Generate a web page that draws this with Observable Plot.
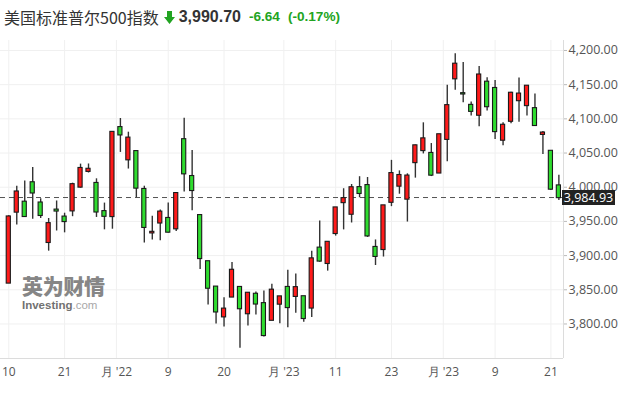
<!DOCTYPE html>
<html><head><meta charset="utf-8">
<script src="https://cdn.jsdelivr.net/npm/d3@7"></script>
<script src="https://cdn.jsdelivr.net/npm/@observablehq/plot@0.6"></script>
<style>
body{margin:0;background:#fff;}
#wrap{position:relative;width:624px;height:398px;overflow:hidden;background:#fff;}
#title{position:absolute;left:4px;top:3px;height:26px;line-height:26px;white-space:nowrap;}
#title .name{font-family:"Noto Sans CJK SC","Noto Sans",sans-serif;font-size:16px;color:#333;vertical-align:middle;}
#title .arrow{display:inline-block;vertical-align:middle;margin-left:5px;margin-right:4px;}
#title .last{font-family:"Liberation Sans",Arial,sans-serif;font-weight:bold;font-size:16px;color:#333;vertical-align:middle;}
#title .chg{font-family:"Liberation Sans",Arial,sans-serif;font-weight:bold;font-size:13.6px;color:#22a422;vertical-align:middle;margin-left:8px;}
#chart{position:absolute;left:0;top:30px;}
#wmcn{position:absolute;left:22px;top:274px;font-family:"Noto Sans CJK SC",sans-serif;font-weight:900;font-size:21px;color:#868686;letter-spacing:-0.3px;line-height:22px;height:22px;}
#wmen{position:absolute;left:22px;top:300px;font-family:"Liberation Sans",Arial,sans-serif;font-size:11.5px;line-height:11px;height:11px;white-space:nowrap;}
#wmen b{color:#717171;}
#wmen span{color:#a8a8a8;}
#pricebox{position:absolute;left:562px;width:53px;height:15px;background:#222;color:#fff;font-family:"Open Sans",sans-serif;font-size:12.5px;line-height:15px;text-align:center;}
</style></head>
<body><div id="wrap">
<div id="title"><span class="name">美国标准普尔500指数</span><svg class="arrow" width="11" height="13" viewBox="0 0 11 13"><polygon points="3,0 8,0 8,6 11,6 5.5,13 0,6 3,6" fill="#22a422"/></svg><span class="last">3,990.70</span><span class="chg">-6.64</span><span class="chg">(-0.17%)</span></div>
<div id="chart"></div>
<div id="wmcn">英为财情</div>
<div id="wmen"><b>Investing</b><span>.com</span></div>
<div id="pricebox"></div>
</div>
<script>
const dates = ["2022-11-10","2022-11-11","2022-11-14","2022-11-15","2022-11-16","2022-11-17","2022-11-18","2022-11-21","2022-11-22","2022-11-23","2022-11-25","2022-11-28","2022-11-29","2022-11-30","2022-12-01","2022-12-02","2022-12-05","2022-12-06","2022-12-07","2022-12-08","2022-12-09","2022-12-12","2022-12-13","2022-12-14","2022-12-15","2022-12-16","2022-12-19","2022-12-20","2022-12-21","2022-12-22","2022-12-23","2022-12-27","2022-12-28","2022-12-29","2022-12-30","2023-01-03","2023-01-04","2023-01-05","2023-01-06","2023-01-09","2023-01-10","2023-01-11","2023-01-12","2023-01-13","2023-01-17","2023-01-18","2023-01-19","2023-01-20","2023-01-23","2023-01-24","2023-01-25","2023-01-26","2023-01-27","2023-01-30","2023-01-31","2023-02-01","2023-02-02","2023-02-03","2023-02-06","2023-02-07","2023-02-08","2023-02-09","2023-02-10","2023-02-13","2023-02-14","2023-02-15","2023-02-16","2023-02-17","2023-02-21","2023-02-22"];
const open = [3859.9,3963.7,3978.0,4006.4,3976.8,3919.3,3966.4,3956.2,3965.5,4000.3,4023.3,4005.4,3964.2,3957.2,4087.1,4040.2,4052.0,3996.6,3933.3,3947.8,3954.2,3939.3,4069.4,4015.5,3958.4,3890.9,3853.8,3810.5,3839.5,3853.3,3815.1,3843.3,3829.6,3805.5,3829.1,3853.3,3840.4,3839.7,3823.4,3910.8,3888.6,3932.4,3977.6,3960.6,3999.3,4002.3,3911.8,3909.0,3978.1,4001.7,3982.7,4036.1,4053.7,4049.3,4020.9,4070.1,4158.7,4136.7,4119.6,4105.4,4153.5,4144.3,4068.9,4096.6,4126.7,4119.5,4114.8,4077.4,4052.4,4001.8];
const high = [3958.3,4001.5,4009.0,4028.8,3983.1,3954.3,3979.9,3962.0,4005.9,4033.8,4034.0,4012.3,3976.8,4080.1,4100.5,4080.5,4052.5,4001.5,3957.6,3966.7,3977.0,3990.7,4101.0,4053.8,3958.4,3890.9,3854.9,3838.2,3889.8,3853.3,3845.8,3846.7,3848.3,3858.2,3839.9,3878.5,3873.2,3839.7,3906.2,3950.6,3919.8,3970.1,3997.8,4004.0,4015.4,4014.2,3922.9,3973.0,4039.3,4023.9,4019.6,4061.6,4094.2,4063.9,4077.2,4149.0,4195.4,4182.4,4124.6,4176.5,4160.0,4156.2,4094.4,4138.9,4159.8,4148.1,4136.5,4081.5,4052.4,4017.4];
const low = [3859.9,3944.8,3956.4,3953.2,3954.3,3906.5,3936.0,3933.3,3956.9,3998.7,4020.8,3955.8,3937.7,3938.6,4050.9,4026.6,3984.5,3918.4,3922.7,3921.8,3933.0,3935.3,3993.0,3965.7,3879.5,3827.9,3800.0,3795.6,3839.5,3764.5,3797.0,3813.2,3780.8,3805.5,3800.3,3794.3,3815.8,3802.4,3809.6,3890.4,3877.3,3928.5,3937.6,3947.7,3984.6,3926.6,3885.5,3897.9,3971.6,3989.8,3949.1,4013.3,4048.7,4015.6,4020.4,4037.2,4141.9,4123.4,4104.0,4088.4,4111.4,4069.7,4060.8,4092.7,4095.0,4104.0,4089.9,4048.0,3995.2,3980.6];
const close = [3956.4,3992.9,3957.3,3991.7,3958.8,3946.6,3965.3,3949.9,4003.6,4027.3,4026.1,3963.9,3957.6,4080.1,4076.6,4071.7,3998.8,3941.3,3933.9,3963.5,3934.4,3990.6,4019.7,3995.3,3895.8,3852.4,3817.7,3821.6,3878.4,3822.4,3844.8,3829.3,3783.2,3849.3,3839.5,3824.1,3853.0,3808.1,3895.1,3892.1,3919.3,3969.6,3983.2,3999.1,3991.0,3928.9,3898.9,3972.6,4019.8,4017.0,4016.2,4060.4,4070.6,4017.8,4076.6,4119.2,4179.8,4136.5,4111.1,4164.0,4117.9,4081.5,4090.5,4137.3,4136.1,4147.6,4090.4,4079.1,3997.3,3984.9];
const currentPrice = 3984.93;
const yTicks = [3800, 3850, 3900, 3950, 4000, 4050, 4100, 4150, 4200];
// x tick positions (trading-day index) and their labels as shown
const xTickPos = [0, 7, 13.5, 20, 27, 34.5, 41, 48, 54.5, 61, 68];
const xTickLabels = ["10", "21", "月 '22", "9", "20", "月 '23", "11", "23", "月 '23", "9", "21"];

const UP = "#ff1a1a", DOWN = "#2fdc2f";
const candles = dates.map((d, i) => ({i, open: open[i], high: high[i], low: low[i], close: close[i], top: Math.max(open[i], close[i]), bot: Math.min(open[i], close[i]), up: close[i] >= open[i]}));
const labelOf = new Map(xTickPos.map((p, k) => [p, xTickLabels[k]]));
const xDom = [-1.04, 69.58], yDom = [3749.5, 4214.6];

const plot = Plot.plot({
  width: 624, height: 368,
  marginLeft: 0, marginRight: 61, marginTop: 10, marginBottom: 40,
  x: {type: "linear", domain: xDom, axis: null, label: null},
  y: {type: "linear", domain: yDom, axis: null, label: null},
  style: {fontFamily: "'Open Sans', sans-serif", fontSize: "12px", color: "#555", background: "transparent"},
  marks: [
    Plot.gridY(yTicks, {stroke: "#f0f0f0", strokeOpacity: 1}),
    Plot.gridX(xTickPos, {stroke: "#f0f0f0", strokeOpacity: 1}),
    Plot.ruleY([yDom[0]], {stroke: "#dcdcdc"}),
    Plot.ruleX([xDom[1]], {stroke: "#dcdcdc"}),
    Plot.axisY(yTicks, {anchor: "right", label: null, tickFormat: d3.format(",.2f"), tickSize: 3, tickPadding: 2, stroke: "#bbb", fill: "#555", fontSize: 12.5}),
    Plot.axisX(xTickPos, {anchor: "bottom", label: null, tickFormat: d => labelOf.get(d), tickSize: 0, tickPadding: 9, fill: "#555", fontSize: 12}),
    Plot.ruleY([currentPrice], {stroke: "#555", strokeDasharray: "5,4", strokeWidth: 1}),
    Plot.ruleX(candles, {x: "i", y1: "low", y2: "high", stroke: "#333", strokeWidth: 1.4}),
    Plot.rect(candles.filter(d => d.up), {x1: d => d.i - 0.26, x2: d => d.i + 0.26, y1: "bot", y2: "top", insetTop: -0.6, insetBottom: -0.6, fill: UP, stroke: "#1a1a1a", strokeWidth: 1.1}),
    Plot.rect(candles.filter(d => !d.up), {x1: d => d.i - 0.26, x2: d => d.i + 0.26, y1: "bot", y2: "top", insetTop: -0.6, insetBottom: -0.6, fill: DOWN, stroke: "#1a1a1a", strokeWidth: 1.1})
  ]
});
document.getElementById("chart").append(plot);
const py = plot.scale("y").apply(currentPrice) + 30;
const box = document.getElementById("pricebox");
box.textContent = d3.format(",.2f")(currentPrice);
box.style.top = (py - 7.5) + "px";
</script>
</body></html>
